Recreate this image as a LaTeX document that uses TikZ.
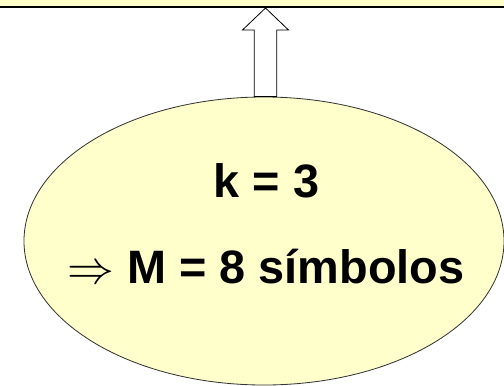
\RequirePackage{fix-cm}
\documentclass[tikz,border=0pt]{standalone}
\usepackage{fontspec}
\setmainfont{Liberation Sans}
\usepackage{tikz}
\usetikzlibrary{calc,shapes.geometric}
\definecolor{paleyellow}{RGB}{255,255,204}

\begin{document}
\begin{tikzpicture}[x=0.03cm,y=-0.03cm,
    band/.style={draw, line width=1.7pt, fill=paleyellow,
        minimum width=15.4cm, minimum height=1cm, inner sep=0pt},
    oval/.style={ellipse, draw=black!80, line width=0.7pt, fill=paleyellow,
        minimum width=14.4cm, minimum height=8.64cm, inner sep=0pt},
    hollow/.style={draw, fill=white, line width=0.7pt, line join=miter},
    bigtext/.style={font=\fontsize{40}{48}\selectfont\bfseries,
        anchor=base, inner sep=0pt}]
    \useasboundingbox (0,0) rectangle (504,385);

    \node[band, anchor=south] (band) at (252,7.5) {};
    \node[oval] (ellipse) at (264,241) {};

    \coordinate (tip) at (265.5,8);
    \coordinate (shaftL) at ($(tip)+(-11.3,22)$);
    \coordinate (shaftR) at ($(tip)+(11.3,22)$);
    \draw[hollow] (shaftL |- ellipse.north) -- (shaftL)
        -- ($(tip)+(-23,22)$) -- (tip) -- ($(tip)+(23,22)$)
        -- (shaftR) -- (shaftR |- ellipse.north) -- cycle;

    \node[bigtext] (kline) at (266.5,197.5) {k = 3};
    \node[bigtext] (mline) at (266,283) {$\Rightarrow$ M = 8 símbolos};
\end{tikzpicture}
\end{document}
